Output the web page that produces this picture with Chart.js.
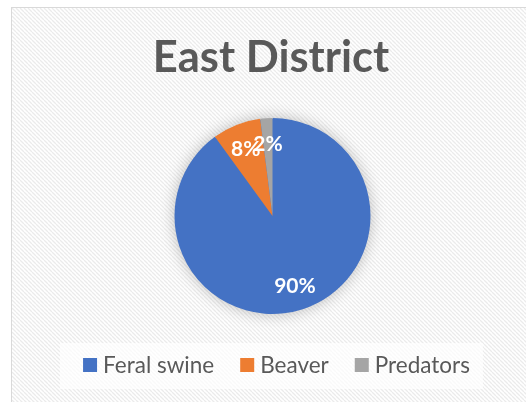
<!DOCTYPE html>
<html>
<head>
<meta charset="utf-8">
<title>East District</title>
<script src="https://cdn.jsdelivr.net/npm/chart.js@4/dist/chart.umd.min.js"></script>
<style>
  html, body { margin: 0; padding: 0; background: #ffffff; }
  #wrap { width: 526px; height: 402px; position: relative; }
</style>
</head>
<body>
<div id="wrap"><canvas id="pie" width="526" height="402"></canvas></div>
<script>
// Damage share by source, East District
const chartTitle = 'East District';
const categories = ['Feral swine', 'Beaver', 'Predators'];
const shares = [90, 8, 2];
const sliceColors = ['#4472C4', '#ED7D31', '#A5A5A5'];

const textGray = '#595959';

// Light diagonal hatch used as the chart background
function makeHatch(ctx) {
  const n = 4;
  const c = document.createElement('canvas');
  c.width = n; c.height = n;
  const g = c.getContext('2d');
  g.fillStyle = '#ffffff';
  g.fillRect(0, 0, n, n);
  g.strokeStyle = '#ebebeb';
  g.lineWidth = 1.3;
  g.beginPath();
  for (let k = -n; k <= 2 * n; k += n) {
    g.moveTo(k, 0);
    g.lineTo(k + n, n);
  }
  g.stroke();
  return ctx.createPattern(c, 'repeat');
}

const framePlugin = {
  id: 'frame',
  beforeDraw(chart) {
    const ctx = chart.ctx;
    ctx.save();
    ctx.fillStyle = '#ffffff';
    ctx.fillRect(0, 0, chart.width, chart.height);
    ctx.fillStyle = makeHatch(ctx);
    ctx.fillRect(12, 8, chart.width, chart.height);
    ctx.strokeStyle = '#d9d9d9';
    ctx.lineWidth = 1;
    ctx.strokeRect(11.5, 7.5, chart.width + 20, chart.height + 20);

    // Title
    ctx.fillStyle = textGray;
    ctx.font = 'bold 43.5px Lato, "Open Sans", sans-serif';
    ctx.textAlign = 'center';
    ctx.textBaseline = 'alphabetic';
    ctx.fillText(chartTitle, 271, 72);
    ctx.restore();
  },
  beforeDatasetsDraw(chart) {
    // soft halo under the pie
    const arc = chart.getDatasetMeta(0).data[0];
    if (!arc) return;
    const ctx = chart.ctx;
    ctx.save();
    ctx.shadowColor = 'rgba(0,0,0,0.28)';
    ctx.shadowBlur = 16;
    ctx.fillStyle = sliceColors[0];
    ctx.beginPath();
    ctx.arc(arc.x, arc.y, arc.outerRadius - 1, 0, Math.PI * 2);
    ctx.fill();
    ctx.restore();
  },
  afterDatasetsDraw(chart) {
    const ctx = chart.ctx;
    const meta = chart.getDatasetMeta(0);
    ctx.save();
    // Percentage labels inside the slices
    ctx.fillStyle = '#ffffff';
    ctx.font = 'bold 21px Lato, "Open Sans", sans-serif';
    ctx.textAlign = 'center';
    ctx.textBaseline = 'middle';
    meta.data.forEach((arc, i) => {
      const mid = (arc.startAngle + arc.endAngle) / 2;
      const r = arc.outerRadius * 0.74;
      ctx.fillText(shares[i] + '%', arc.x + Math.cos(mid) * r, arc.y + Math.sin(mid) * r + 1);
    });

    // Legend panel
    ctx.fillStyle = 'rgba(255,255,255,0.7)';
    ctx.fillRect(60, 343, 423, 46);
    ctx.font = '22.5px Lato, "Open Sans", sans-serif';
    ctx.textAlign = 'left';
    ctx.textBaseline = 'alphabetic';
    const box = 14, gapText = 6, gapItem = 26;
    const widths = categories.map(t => ctx.measureText(t).width);
    const total = widths.reduce((a, w) => a + box + gapText + w, 0) + gapItem * (categories.length - 1);
    let x = 276.5 - total / 2;
    categories.forEach((t, i) => {
      ctx.fillStyle = sliceColors[i];
      ctx.fillRect(x, 358, box, box);
      ctx.fillStyle = textGray;
      ctx.fillText(t, x + box + gapText, 372.5);
      x += box + gapText + widths[i] + gapItem;
    });
    ctx.restore();
  }
};

new Chart(document.getElementById('pie'), {
  type: 'pie',
  data: {
    labels: categories,
    datasets: [{
      data: shares,
      backgroundColor: sliceColors,
      borderWidth: 0
    }]
  },
  options: {
    responsive: false,
    animation: false,
    layout: { padding: { top: 118, bottom: 88, left: 174, right: 155 } },
    plugins: {
      legend: { display: false },
      title: { display: false },
      tooltip: { enabled: false }
    }
  },
  plugins: [framePlugin]
});
</script>
</body>
</html>
